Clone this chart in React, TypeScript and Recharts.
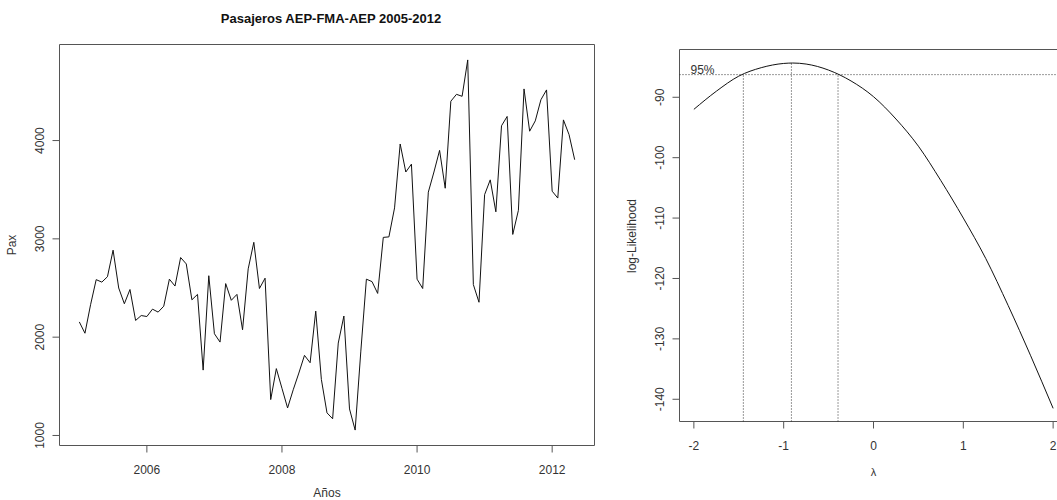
import React from 'react'
import {
  LineChart,
  Line,
  XAxis,
  YAxis,
  ReferenceArea,
  ReferenceLine
} from 'recharts'

// Monthly passengers AEP-FMA-AEP, Jan 2005 .. May 2012
const startYear = 2005
const pax = [
  2155, 2040, 2330, 2585, 2560, 2615, 2885, 2500, 2340, 2485, 2170, 2220,
  2210, 2285, 2255, 2315, 2590, 2520, 2810, 2745, 2380, 2435, 1665, 2625,
  2035, 1950, 2545, 2375, 2435, 2075, 2695, 2965, 2495, 2600, 1365, 1680,
  1480, 1280, 1465, 1635, 1815, 1740, 2265, 1570, 1230, 1170, 1940, 2215,
  1270, 1055, 1850, 2590, 2565, 2445, 3015, 3020, 3315, 3965, 3680, 3760,
  2590, 2495, 3475, 3680, 3900, 3515, 4400, 4470, 4450, 4820, 2535, 2355,
  3450, 3600, 3275, 4150, 4245, 3045, 3290, 4525, 4095, 4200, 4415, 4515,
  3485, 3415, 4210, 4060, 3805
]
const yearTicks = [2006, 2008, 2010, 2012]
const paxTicks = [1000, 2000, 3000, 4000]

// Box-Cox profile log-likelihood
const lambdas = [-2, -1.75, -1.5, -1.25, -1, -0.9, -0.75, -0.5, -0.25, 0, 0.25, 0.5, 0.75, 1, 1.25, 1.5, 1.75, 2]
const logLik = [-92.0, -89.0, -86.5, -85.1, -84.4, -84.33, -84.5, -85.5, -87.3, -89.9, -93.6, -98.1, -103.8, -110.0, -116.7, -124.5, -132.8, -141.5]
const lambdaTicks = [-2, -1, 0, 1, 2]
const logLikTicks = [-140, -130, -120, -110, -100, -90]
const ciLower = -1.449
const lambdaHat = -0.914
const ciUpper = -0.395
const logLikMax = -84.33
const cutoff95 = -86.25

const paxData = pax.map((v, i) => ({ t: startYear + i / 12, pax: v }))
const profileData = lambdas.map((l, i) => ({ lambda: l, ll: logLik[i] }))

// R-style 4% padded ranges
const paxX: [number, number] = [2004.7067, 2012.6267]
const paxY: [number, number] = [898, 4977]
const lamX: [number, number] = [-2.16, 2.16]
const lamY: [number, number] = [-143.68, -82.09]

const font = '"Liberation Sans", Arial, Helvetica, sans-serif'
const ink = '#333'
const frame = '#555'

const BottomTick = ({ x, y, payload }: any) => (
  <text x={x} y={y + 19} textAnchor="middle" fontSize={12} fontFamily={font} fill={ink}>
    {payload.value}
  </text>
)

const SideTick = ({ x, y, payload }: any) => (
  <text
    x={x - 6}
    y={y}
    transform={`rotate(-90 ${x - 6} ${y})`}
    textAnchor="middle"
    fontSize={12}
    fontFamily={font}
    fill={ink}
  >
    {payload.value}
  </text>
)

const Caption = ({ x, y, text, rotate = false, bold = false, size = 12 }: any) => (
  <div
    style={{
      position: 'absolute',
      left: x,
      top: y,
      transform: `translate(-50%, -50%)${rotate ? ' rotate(-90deg)' : ''}`,
      whiteSpace: 'nowrap',
      fontFamily: font,
      fontSize: size,
      fontWeight: bold ? 'bold' : 'normal',
      color: bold ? '#111' : ink,
      lineHeight: 1.15
    }}
  >
    {text}
  </div>
)

const App = () => {
  return (
    <div
      style={{
        position: 'fixed',
        left: 0,
        top: 0,
        width: 1057,
        height: 500,
        overflow: 'hidden',
        background: '#fff'
      }}
    >
      {/* time series panel */}
      <div style={{ position: 'absolute', left: 0, top: 0 }}>
        <LineChart
          width={620}
          height={500}
          data={paxData}
          margin={{ top: 44.5, right: 25.5, left: 0, bottom: 0 }}
        >
          <XAxis
            dataKey="t"
            type="number"
            domain={paxX}
            ticks={yearTicks}
            interval={0}
            allowDataOverflow
            axisLine={false}
            tickSize={7}
            tickLine={{ stroke: frame }}
            tick={<BottomTick />}
            height={54.5}
          />
          <YAxis
            type="number"
            domain={paxY}
            ticks={paxTicks}
            interval={0}
            allowDataOverflow
            axisLine={false}
            tickSize={7}
            tickLine={{ stroke: frame }}
            tick={<SideTick />}
            width={59.5}
          />
          <ReferenceArea
            x1={paxX[0]}
            x2={paxX[1]}
            y1={paxY[0]}
            y2={paxY[1]}
            fill="none"
            stroke={frame}
            strokeWidth={1}
          />
          <Line
            dataKey="pax"
            type="linear"
            stroke="#111"
            strokeWidth={1}
            dot={false}
            isAnimationActive={false}
          />
        </LineChart>
      </div>

      {/* Box-Cox panel */}
      <div style={{ position: 'absolute', left: 620, top: 0 }}>
        <LineChart
          width={470}
          height={500}
          data={profileData}
          margin={{ top: 49.5, right: 22.5, left: 0, bottom: 0 }}
        >
          <XAxis
            dataKey="lambda"
            type="number"
            domain={lamX}
            ticks={lambdaTicks}
            interval={0}
            allowDataOverflow
            axisLine={false}
            tickSize={7}
            tickLine={{ stroke: frame }}
            tick={<BottomTick />}
            height={78.5}
          />
          <YAxis
            type="number"
            domain={lamY}
            ticks={logLikTicks}
            interval={0}
            allowDataOverflow
            axisLine={false}
            tickSize={7}
            tickLine={{ stroke: frame }}
            tick={<SideTick />}
            width={59.5}
          />
          <ReferenceArea
            x1={lamX[0]}
            x2={lamX[1]}
            y1={lamY[0]}
            y2={lamY[1]}
            fill="none"
            stroke={frame}
            strokeWidth={1}
          />
          <ReferenceLine
            y={cutoff95}
            stroke="#333"
            strokeDasharray="1 2"
            label={{
              value: '95%',
              position: 'insideBottomLeft',
              offset: 1,
              dx: 10,
              fontSize: 12,
              fontFamily: font,
              fill: ink
            }}
          />
          <ReferenceLine
            segment={[{ x: ciLower, y: lamY[0] }, { x: ciLower, y: cutoff95 }]}
            stroke="#333"
            strokeDasharray="1 2"
          />
          <ReferenceLine
            segment={[{ x: lambdaHat, y: lamY[0] }, { x: lambdaHat, y: logLikMax }]}
            stroke="#333"
            strokeDasharray="1 2"
          />
          <ReferenceLine
            segment={[{ x: ciUpper, y: lamY[0] }, { x: ciUpper, y: cutoff95 }]}
            stroke="#333"
            strokeDasharray="1 2"
          />
          <Line
            dataKey="ll"
            type="monotone"
            stroke="#111"
            strokeWidth={1}
            dot={false}
            isAnimationActive={false}
          />
        </LineChart>
      </div>

      <Caption x={331} y={18.5} text="Pasajeros AEP-FMA-AEP 2005-2012" bold size={13} />
      <Caption x={327} y={494} text="Años" />
      <Caption x={13} y={245} text="Pax" rotate />
      <Caption x={633} y={235.5} text="log-Likelihood" rotate />
      <Caption x={873.5} y={472} text="λ" size={11} />
    </div>
  )
}

export default App
